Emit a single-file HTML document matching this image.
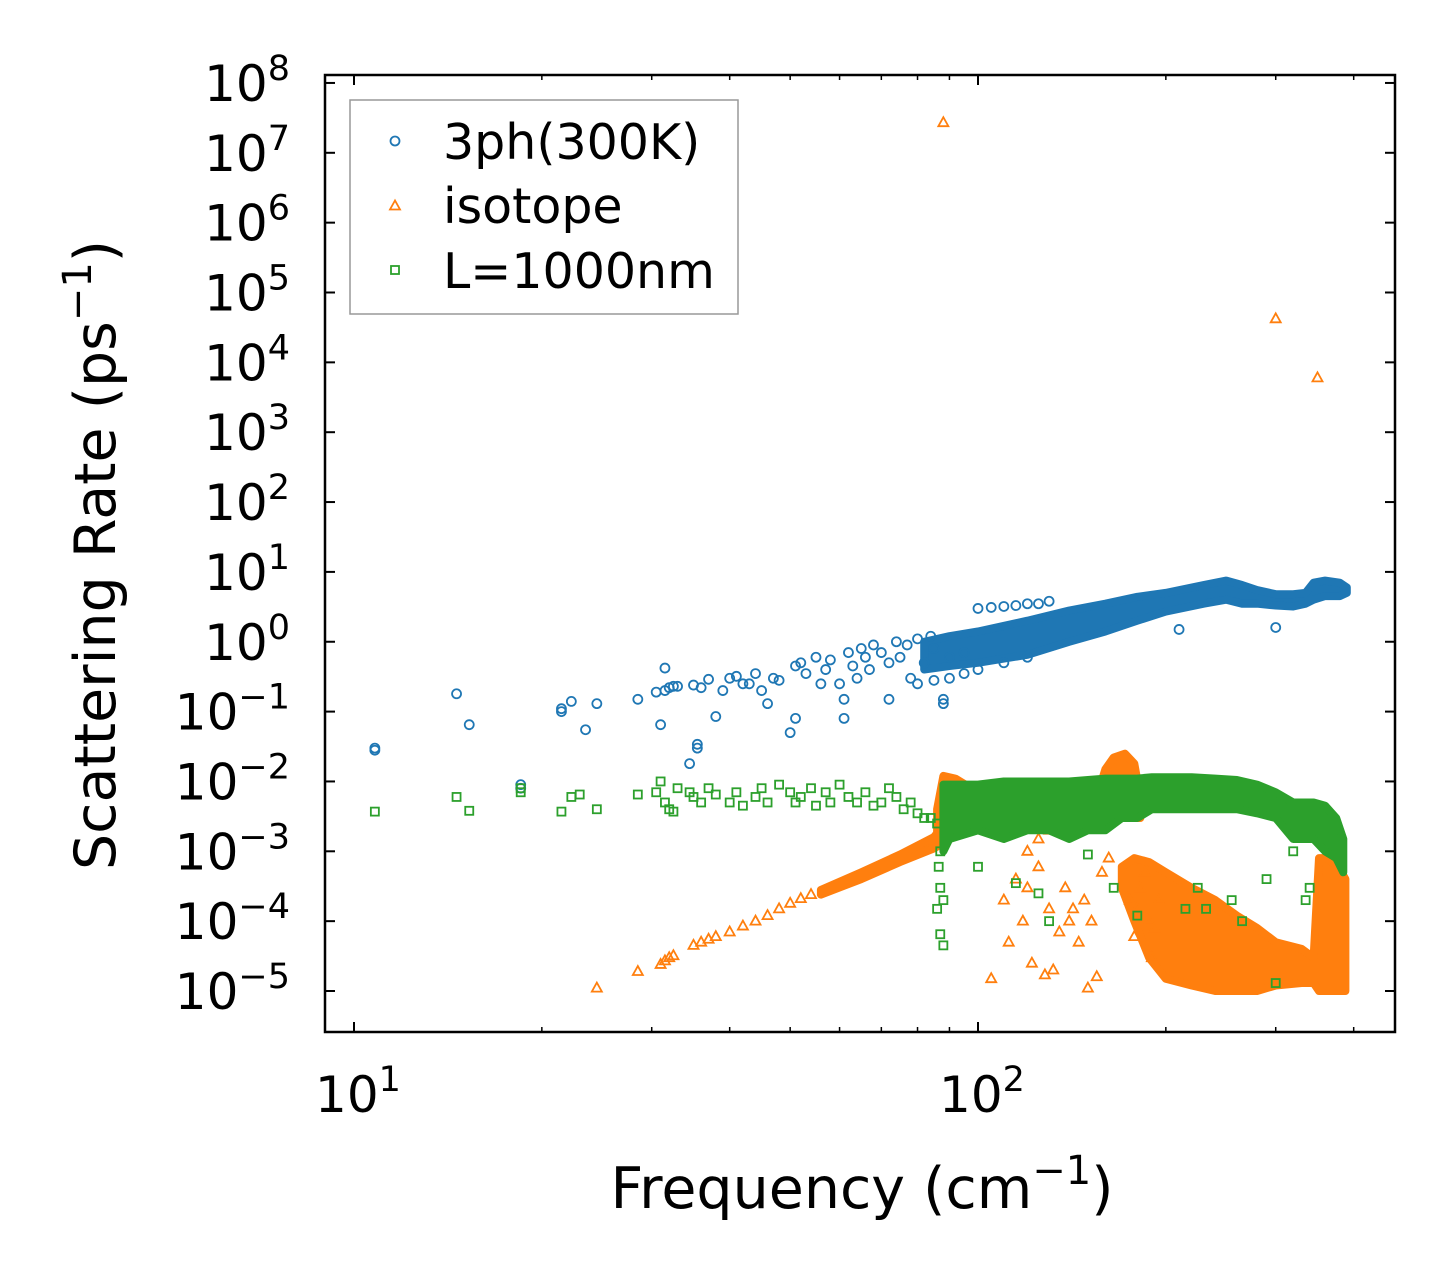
<!DOCTYPE html>
<html><head><meta charset="utf-8"><style>
html,body{margin:0;padding:0;background:#fff}
svg{display:block;font-family:"DejaVu Sans","Liberation Sans",sans-serif}
</style></head><body>
<svg id="chart" width="1455" height="1282" viewBox="0 0 1455 1282" xmlns="http://www.w3.org/2000/svg">
<rect width="1455" height="1282" fill="#fff"/>
<g id="bands"></g><g id="marks"></g><g id="axes"></g>
<text x="862" y="1208" font-size="57" text-anchor="middle">Frequency (cm<tspan font-size="40" dy="-24">−1</tspan><tspan dy="24">)</tspan></text>
<text transform="translate(115,555) rotate(-90)" font-size="57" text-anchor="middle">Scattering Rate (ps<tspan font-size="40" dy="-24">−1</tspan><tspan dy="24">)</tspan></text>
<g font-size="49">
  <rect x="350" y="100" width="388" height="214" fill="#fff" stroke="#999" stroke-width="1.5"/>
  <circle cx="395" cy="141" r="4.5" fill="none" stroke="#1f77b4" stroke-width="1.8"/>
  <text x="443" y="159">3ph(300K)</text>
  <polygon points="395,200.5 390,209.5 400,209.5" fill="none" stroke="#ff7f0e" stroke-width="1.8"/>
  <text x="443" y="223">isotope</text>
  <rect x="391" y="266" width="8" height="8" fill="none" stroke="#2ca02c" stroke-width="1.8"/>
  <text x="443" y="288">L=1000nm</text>
</g>
</svg>
<script>
// ---- data ----
const xTickExp = [1, 2];
const yTickExp = [8,7,6,5,4,3,2,1,0,-1,-2,-3,-4,-5];
const xMinorTicks = [20,30,40,50,60,70,80,90,200,300,400];

const ph3Freq = [10.8,10.8,14.6,15.3,18.5,18.5,21.5,21.5,22.3,23.5,24.5,28.5,30.5,31,31.5,31.5,32,32.5,33,34.5,35,35.5,35.5,36,37,38,39,40,41,42,43,44,45,46,47,48,50,51,51,52,53,55,56,57,58,60,61,61,62,63,64,65,66,67,68,70,72,72,74,75,77,78,80,82,84,85,88,88,90,95,100,105,110,115,120,125,130,210,300,80,85,90,95,100,110,120];
const ph3Rate = [0.03,0.028,0.18,0.065,0.009,0.008,0.11,0.1,0.14,0.055,0.13,0.15,0.19,0.065,0.2,0.42,0.22,0.23,0.23,0.018,0.24,0.034,0.03,0.22,0.29,0.085,0.2,0.3,0.32,0.25,0.25,0.35,0.2,0.13,0.3,0.28,0.05,0.08,0.45,0.5,0.35,0.6,0.25,0.4,0.55,0.25,0.15,0.08,0.7,0.45,0.3,0.8,0.6,0.4,0.9,0.7,0.5,0.15,1.0,0.6,0.9,0.3,1.1,0.5,1.2,0.8,0.13,0.15,0.6,0.7,3.0,3.1,3.2,3.3,3.5,3.5,3.8,1.5,1.6,0.25,0.28,0.3,0.35,0.4,0.5,0.6];
const ph3BandFreq = [82,90,100,120,140,160,180,200,230,250,265,280,300,320,335,345,360,380,390];
const ph3BandLo   = [0.4,0.45,0.5,0.65,1.0,1.4,2.0,2.7,3.5,4.0,3.5,3.5,3.3,3.2,3.5,4.0,4.5,4.5,5.0];
const ph3BandHi   = [1.0,1.2,1.4,2.0,2.8,3.5,4.4,5.0,6.5,7.5,6.5,5.5,4.8,4.8,5.0,7.0,7.5,7.0,6.0];

const isoFreq = [88,300,350,24.5,28.5,31,31.5,32,32.5,35,36,37,38,40,42,44,46,48,50,52,54,105,110,112,115,118,120,122,125,128,130,132,135,138,140,142,145,148,150,152,155,158,162,175,178,180,182,185,188,190,192,195,115,120,125,130,140,150];
const isoRate = [2.7e7,4.2e4,6e3,1.1e-5,1.9e-5,2.4e-5,2.7e-5,3e-5,3.2e-5,4.5e-5,5e-5,5.5e-5,6e-5,7e-5,8.5e-5,1e-4,1.2e-4,1.5e-4,1.8e-4,2.1e-4,2.4e-4,1.5e-5,2e-4,5e-5,4e-4,1e-4,3e-4,2.5e-5,6e-4,1.7e-5,1.5e-4,2e-5,7e-5,3e-4,1e-4,1.5e-4,5e-5,2e-4,1.1e-5,1e-4,1.6e-5,5e-4,8e-4,2e-4,6e-5,1.5e-4,3e-4,5e-4,1e-4,3e-5,8e-5,2e-4,2e-3,1e-3,1.5e-3,2e-3,2e-3,2.5e-3];
const isoRampFreq = [56,65,75,85,90];
const isoRampLo = [2.4e-4,4e-4,7e-4,1.1e-3,1.5e-3];
const isoRampHi = [2.8e-4,5e-4,9e-4,1.6e-3,3e-3];
const isoBumpFreq = [86,88,92,100,110];
const isoBumpLo = [1.5e-3,2e-3,3e-3,3e-3,3e-3];
const isoBumpHi = [4e-3,1.2e-2,1.1e-2,7e-3,6e-3];
const isoPeakFreq = [155,160,165,172,178,182];
const isoPeakLo = [3e-3,3e-3,3e-3,3e-3,3e-3,3e-3];
const isoPeakHi = [6e-3,1.5e-2,2.2e-2,2.5e-2,1.8e-2,6e-3];
const isoDenseFreq = [170,178,188,200,220,240,260,280,300,330,345,352,362,378,388];
const isoDenseLo = [3e-4,1e-4,3e-5,1.5e-5,1.2e-5,1e-5,1e-5,1e-5,1.2e-5,1.3e-5,1.3e-5,1e-5,1e-5,1e-5,1e-5];
const isoDenseHi = [6e-4,8e-4,7e-4,5e-4,3e-4,2e-4,1.2e-4,8e-5,5e-5,4e-5,3e-5,8e-4,8e-4,6e-4,4e-4];

const bdyFreq = [10.8,14.6,15.3,18.5,18.5,21.5,22.3,23,24.5,28.5,30.5,31,31.5,32,32.5,33,34.5,35,36,37,38,40,41,42,44,45,46,48,50,51,52,54,55,57,58,60,62,64,66,68,70,72,74,76,78,80,82,84,86,87,87,88,86,87,86.5,88,100,130,165,180,215,225,255,265,300,335,340,125,115,150,232,290,320];
const bdyRate = [3.7e-3,6e-3,3.8e-3,7e-3,8e-3,3.7e-3,6e-3,6.5e-3,4e-3,6.5e-3,7e-3,1e-2,5e-3,4e-3,3.7e-3,8e-3,7e-3,6e-3,5e-3,8e-3,6.5e-3,5e-3,7e-3,4.5e-3,6e-3,8e-3,5e-3,9e-3,7e-3,5e-3,6e-3,8e-3,4.5e-3,7e-3,5e-3,9e-3,6e-3,5e-3,7e-3,4.5e-3,5e-3,8e-3,6e-3,4e-3,5e-3,3.5e-3,3e-3,3e-3,2.5e-3,3e-4,6.5e-5,4.5e-5,1.5e-4,1e-3,6e-4,2e-4,6e-4,1e-4,3e-4,1.2e-4,1.5e-4,3e-4,2e-4,1e-4,1.3e-5,2e-4,3e-4,2.5e-4,3.5e-4,9e-4,1.5e-4,4e-4,1e-3];
const bdyBandFreq = [88,90,100,110,120,130,140,150,160,170,180,190,200,220,240,260,280,300,320,335,345,360,375,385];
const bdyBandLo = [1e-3,1.5e-3,2e-3,1.5e-3,2e-3,2e-3,1.5e-3,2e-3,2e-3,3e-3,3e-3,4e-3,4e-3,4e-3,4e-3,4e-3,3.5e-3,3e-3,1.5e-3,1.5e-3,1.5e-3,1e-3,8e-4,5e-4];
const bdyBandHi = [9e-3,9e-3,9e-3,1e-2,1e-2,1e-2,1e-2,1.05e-2,1.1e-2,1.1e-2,1.1e-2,1.15e-2,1.15e-2,1.15e-2,1.1e-2,1.05e-2,9e-3,7e-3,5e-3,5e-3,5e-3,4.5e-3,3e-3,1.5e-3];

// ---- scales ----
const X = f => 354 + 624 * (Math.log10(f) - 1);
const Y = r => 991 - 69.85 * (Math.log10(r) + 5);
const NS = 'http://www.w3.org/2000/svg';
const C_BLUE = '#1f77b4', C_ORANGE = '#ff7f0e', C_GREEN = '#2ca02c';
const marks = document.getElementById('marks');
const axes = document.getElementById('axes');

function mk(tag, attrs, parent) {
  const e = document.createElementNS(NS, tag);
  for (const k in attrs) e.setAttribute(k, attrs[k]);
  parent.appendChild(e);
  return e;
}
function band(freq, lo, hi, color, name, parent) {
  const pts = [];
  for (let i = 0; i < freq.length; i++) pts.push(X(freq[i]).toFixed(1) + ',' + Y(hi[i]).toFixed(1));
  for (let i = freq.length - 1; i >= 0; i--) pts.push(X(freq[i]).toFixed(1) + ',' + Y(lo[i]).toFixed(1));
  const p = mk('polygon', {points: pts.join(' '), fill: color, stroke: color, 'stroke-width': 8, 'stroke-linejoin': 'round'}, parent);
  
  
}
function marker(kind, cx, cy, color, parent) {
  let e;
  if (kind === 'circle') e = mk('circle', {cx: cx, cy: cy, r: 4.5, fill: 'none', stroke: color, 'stroke-width': 1.8}, parent);
  else if (kind === 'tri') e = mk('polygon', {points: `${cx},${cy-5.5} ${cx-5},${cy+3.5} ${cx+5},${cy+3.5}`, fill: 'none', stroke: color, 'stroke-width': 1.8}, parent);
  else e = mk('rect', {x: cx-4, y: cy-4, width: 8, height: 8, fill: 'none', stroke: color, 'stroke-width': 1.8}, parent);
  return e;
}
function series(freq, rate, kind, color, name, parent) {
  for (let i = 0; i < freq.length; i++) {
    const e = marker(kind, X(freq[i]), Y(rate[i]), color, parent);
    
    
  }
}
const gB = mk('g', {}, marks), gO = mk('g', {}, marks), gG = mk('g', {}, marks);
band(ph3BandFreq, ph3BandLo, ph3BandHi, C_BLUE, 'ph3-dense-band', gB);
series(ph3Freq, ph3Rate, 'circle', C_BLUE, 'ph3-point', gB);
band(isoRampFreq, isoRampLo, isoRampHi, C_ORANGE, 'isotope-ramp-band', gO);
band(isoBumpFreq, isoBumpLo, isoBumpHi, C_ORANGE, 'isotope-bump-band', gO);
band(isoPeakFreq, isoPeakLo, isoPeakHi, C_ORANGE, 'isotope-peak-band', gO);
band(isoDenseFreq, isoDenseLo, isoDenseHi, C_ORANGE, 'isotope-dense-band', gO);
series(isoFreq, isoRate, 'tri', C_ORANGE, 'isotope-point', gO);
band(bdyBandFreq, bdyBandLo, bdyBandHi, C_GREEN, 'boundary-dense-band', gG);
series(bdyFreq, bdyRate, 'square', C_GREEN, 'boundary-point', gG);

// ---- axes ----
const L = 325, R = 1395, T = 75, B = 1032;
const frame = mk('rect', {x: L, y: T, width: R-L, height: B-T, fill: 'none', stroke: '#000', 'stroke-width': 2.5}, axes);


function line(x1,y1,x2,y2,w){ return mk('line',{x1:x1,y1:y1,x2:x2,y2:y2,stroke:'#000','stroke-width':w},axes); }
function pow10Text(x, y, exp, anchor, size, name) {
  const t = mk('text', {x: x, y: y, 'font-size': size, 'text-anchor': anchor, fill: '#000'}, axes);
  
  
  const a = document.createElementNS(NS, 'tspan'); a.textContent = '10'; t.appendChild(a);
  const b = document.createElementNS(NS, 'tspan');
  b.setAttribute('font-size', Math.round(size*0.7)); b.setAttribute('dy', -size*0.42);
  b.textContent = exp < 0 ? '\u2212' + (-exp) : String(exp); t.appendChild(b);
}
for (const e of yTickExp) {
  const y = Y(Math.pow(10, e));
  line(L, y, L+10, y, 2); line(R-10, y, R, y, 2);
  pow10Text(290, y + 18, e, 'end', 50, 'y-tick-label');
}
for (const e of xTickExp) {
  const x = X(Math.pow(10, e));
  line(x, B, x, B-10, 2); line(x, T, x, T+10, 2);
  pow10Text(x + 4, 1112, e, 'middle', 50, 'x-tick-label');
}
for (const f of xMinorTicks) {
  const x = X(f);
  if (x > R) continue;
  line(x, B, x, B-5, 1.5); line(x, T, x, T+5, 1.5);
}
</script>
</body></html>
